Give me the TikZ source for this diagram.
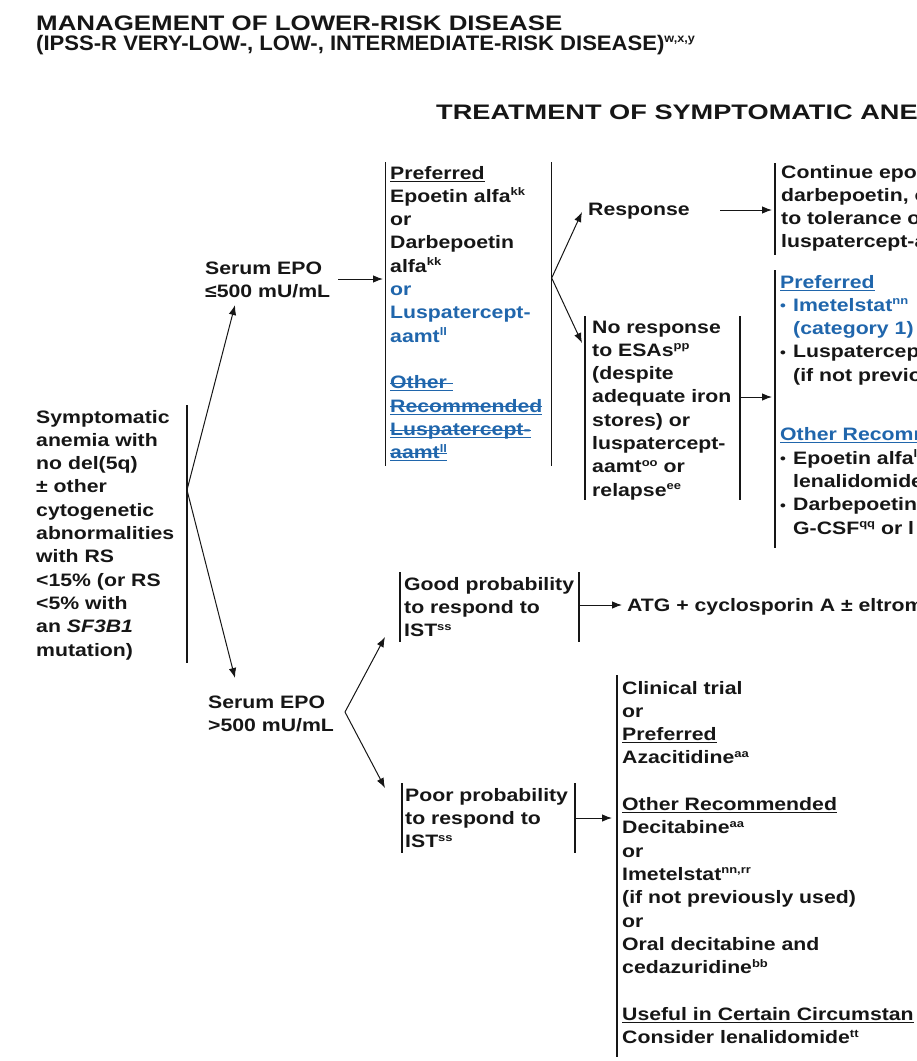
\documentclass[tikz,border=0pt]{standalone}
\usepackage{graphicx}
\usepackage{fontspec}
\setmainfont{Liberation Sans}[FakeStretch=1.18]
\newfontfamily\ttlfont{Liberation Sans}[FakeStretch=1.2]
\usetikzlibrary{arrows.meta}

\definecolor{nccnblue}{RGB}{32,102,172}
\definecolor{ink}{RGB}{22,22,22}

% stacked left-aligned lines; the node baseline is the first line
\newcommand\txtlines[1]{\begin{tabular}[t]{@{}l@{}}#1\end{tabular}}
% footnote letters
\newcommand\fn[1]{\raisebox{6.5pt}{\fontsize{11}{11}\selectfont #1}}
\newcommand\tfn[1]{\raisebox{8pt}{\fontsize{12}{12}\selectfont #1}}
% underline and struck-through underline
\newlength\ulw
\newcommand\undl[1]{\settowidth\ulw{#1}\rlap{\rule[-2.6pt]{\ulw}{1pt}}#1}
\newcommand\strk[1]{\settowidth\ulw{#1}\rlap{\rule[-2.6pt]{\ulw}{1pt}}\rlap{\rule[4.6pt]{\ulw}{1pt}}#1}
% bullets
\newcommand\bul{\makebox[13pt][l]{\fontsize{14}{14}\selectfont\raisebox{0.5pt}{•}}}
\newcommand\ind{\hspace*{13pt}}

\begin{document}
\begin{tikzpicture}[x=1pt,y=-1pt,
  txt/.style={anchor=base west,inner sep=0pt,text=ink,
    font=\fontsize{18}{23.3}\selectfont\bfseries},
  ttl/.style={anchor=base west,inner sep=0pt,text=ink,
    font=\ttlfont\fontsize{21}{21}\selectfont\bfseries},
  bar/.style={line width=1.4pt,draw=ink},
  arr/.style={line width=1pt,draw=ink,-{Latex[length=10pt,width=7.5pt]}}]

\useasboundingbox (0,0) rectangle (917,1061);
\clip (0,0) rectangle (917,1061);

% ---------- headings ----------
\node[ttl] (head1) at (36,30) {\scalebox{1.027}[1]{MANAGEMENT OF LOWER-RISK DISEASE}};
\node[ttl] (head2) at (36,50) {\scalebox{0.876}[1]{(IPSS-R VERY-LOW-, LOW-, INTERMEDIATE-RISK DISEASE)\tfn{w,x,y}}};
\node[ttl] (head3) at (436,119) {\scalebox{1.078}[1]{TREATMENT OF SYMPTOMATIC ANE}};

% ---------- presentation ----------
\node[txt] (entry) at (36,423) {\txtlines{Symptomatic\\anemia with\\no del(5q)\\± other\\cytogenetic\\abnormalities\\with RS\\<15\% (or RS\\<5\% with\\an \textit{SF3B1}\\mutation)}};
\coordinate (entryTop) at (187,405);
\coordinate (entryBot) at (187,663);
\coordinate (entryFork) at (187,490);
\draw[bar] (entryTop) -- (entryBot);

% ---------- serum EPO ----------
\node[txt] (epoLo) at (205,274) {\txtlines{Serum EPO\\≤500 mU/mL}};
\node[txt] (epoHi) at (208,708) {\txtlines{Serum EPO\\>500 mU/mL}};
\coordinate (epoLoTip) at (235,305);
\coordinate (epoHiTip) at (235,678);
\draw[arr] (entryFork) -- (epoLoTip);
\draw[arr] (entryFork) -- (epoHiTip);

% ---------- ESA / luspatercept box ----------
\node[txt] (esa) at (390,179) {\txtlines{\undl{Preferred}\\Epoetin alfa\fn{kk}\\or\\Darbepoetin\\alfa\fn{kk}\\
\color{nccnblue}or\\\color{nccnblue}Luspatercept-\\\color{nccnblue}aamt\fn{ll}\\ \\
\color{nccnblue}\strk{Other }\\\color{nccnblue}\strk{Recommended}\\\color{nccnblue}\strk{Luspatercept-}\\\color{nccnblue}\strk{aamt\fn{ll}}}};
\coordinate (esaLT) at (385.7,162);
\coordinate (esaLB) at (385.7,466);
\coordinate (esaRT) at (551.7,162);
\coordinate (esaRB) at (551.7,466);
\coordinate (esaFork) at (551.7,278);
\draw[bar] (esaLT) -- (esaLB);
\draw[bar] (esaRT) -- (esaRB);
\coordinate (epoLoOut) at (338,279);
\coordinate (esaIn) at (383,279);
\draw[arr] (epoLoOut) -- (esaIn);

% ---------- response ----------
\node[txt] (resp) at (588,215) {Response};
\coordinate (respTip) at (582,212);
\draw[arr] (esaFork) -- (respTip);
\coordinate (respOut) at (720,210);
\coordinate (contIn) at (772,210);
\draw[arr] (respOut) -- (contIn);
\node[txt] (cont) at (781,178) {\txtlines{Continue epo\\darbepoetin, o\\to tolerance o\\luspatercept-a}};
\coordinate (contT) at (775,163);
\coordinate (contB) at (775,255);
\draw[bar] (contT) -- (contB);

% ---------- no response ----------
\node[txt] (noresp) at (592,333) {\txtlines{No response\\to ESAs\fn{pp}\\(despite\\adequate iron\\stores) or\\luspatercept-\\aamt\fn{oo} or\\relapse\fn{ee}}};
\coordinate (norespTip) at (582,343);
\draw[arr] (esaFork) -- (norespTip);
\coordinate (norLT) at (585,316);
\coordinate (norLB) at (585,500);
\coordinate (norRT) at (740,316);
\coordinate (norRB) at (740,500);
\draw[bar] (norLT) -- (norLB);
\draw[bar] (norRT) -- (norRB);
\coordinate (norOut) at (740,397);
\coordinate (secIn) at (772,397);
\draw[arr] (norOut) -- (secIn);

\node[txt] (second) at (780,288) {\txtlines{\color{nccnblue}\undl{Preferred}\\
\color{nccnblue}\bul Imetelstat\fn{nn}\\\color{nccnblue}\ind(category 1)\\
\bul Luspatercept\\\ind(if not previo\\[13pt] \\
\color{nccnblue}\undl{Other Recomm}\\
\bul Epoetin alfa\fn{l}\\\ind lenalidomide\\
\bul Darbepoetin\\\ind G-CSF\fn{qq} or l}};
\coordinate (secT) at (775,270);
\coordinate (secB) at (775,548);
\draw[bar] (secT) -- (secB);

% ---------- serum EPO > 500 ----------
\coordinate (epoHiFork) at (345,712);
\coordinate (goodTip) at (385,637);
\coordinate (poorTip) at (385,788);
\draw[arr] (epoHiFork) -- (goodTip);
\draw[arr] (epoHiFork) -- (poorTip);

\node[txt] (good) at (404,590) {\txtlines{Good probability\\to respond to\\IST\fn{ss}}};
\coordinate (goodLT) at (400,572);
\coordinate (goodLB) at (400,642);
\coordinate (goodRT) at (579,572);
\coordinate (goodRB) at (579,642);
\draw[bar] (goodLT) -- (goodLB);
\draw[bar] (goodRT) -- (goodRB);
\coordinate (goodOut) at (579,605);
\coordinate (atgIn) at (622,605);
\draw[arr] (goodOut) -- (atgIn);
\node[txt] (atg) at (627,611) {ATG + cyclosporin A ± eltrom};

\node[txt] (poor) at (405,801) {\txtlines{Poor probability\\to respond to\\IST\fn{ss}}};
\coordinate (poorLT) at (402,783);
\coordinate (poorLB) at (402,853);
\coordinate (poorRT) at (575,783);
\coordinate (poorRB) at (575,853);
\draw[bar] (poorLT) -- (poorLB);
\draw[bar] (poorRT) -- (poorRB);
\coordinate (poorOut) at (575,818);
\coordinate (hmaIn) at (612,818);
\draw[arr] (poorOut) -- (hmaIn);

\node[txt] (hma) at (622,694) {\txtlines{Clinical trial\\or\\\undl{Preferred}\\Azacitidine\fn{aa}\\ \\
\undl{Other Recommended}\\Decitabine\fn{aa}\\or\\Imetelstat\fn{nn,rr}\\(if not previously used)\\or\\
Oral decitabine and\\cedazuridine\fn{bb}\\ \\
\undl{Useful in Certain Circumstan}\\Consider lenalidomide\fn{tt}}};
\coordinate (hmaT) at (617,675);
\coordinate (hmaB) at (617,1057);
\draw[bar] (hmaT) -- (hmaB);

\end{tikzpicture}
\end{document}
